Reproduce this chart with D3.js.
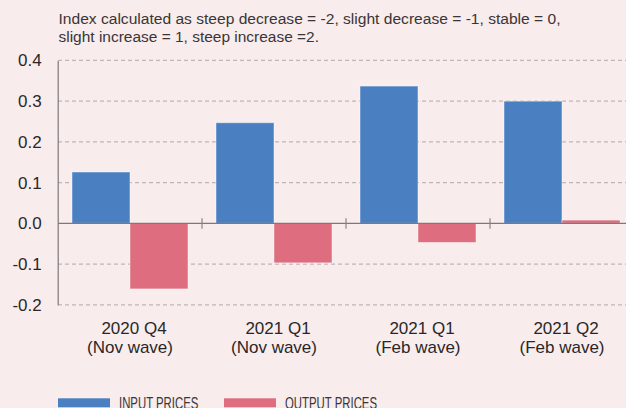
<!DOCTYPE html>
<html>
<head>
<meta charset="utf-8">
<script src="https://cdn.jsdelivr.net/npm/d3@7"></script>
<style>
  html, body { margin: 0; padding: 0; background: #f8ecec; }
  svg { display: block; font-family: "Liberation Sans", Arial, sans-serif; }
</style>
</head>
<body>
<svg id="chart"></svg>
<script>
const categories = [
    ['2020 Q4', '(Nov wave)'],
    ['2021 Q1', '(Nov wave)'],
    ['2021 Q1', '(Feb wave)'],
    ['2021 Q2', '(Feb wave)']
];
const seriesNames = ['INPUT PRICES', 'OUTPUT PRICES'];
const inputPrices = [0.126, 0.247, 0.337, 0.300];
const outputPrices = [-0.161, -0.097, -0.047, 0.008];
const yTicks = [-0.2, -0.1, 0.0, 0.1, 0.2, 0.3, 0.4];
const noteLines = [
    'Index calculated as steep decrease = -2, slight decrease = -1, stable = 0,',
    'slight increase = 1, steep increase =2.'
];

const W = 626, H = 408;
const colors = { 'INPUT PRICES': '#4a80c1', 'OUTPUT PRICES': '#de6e7f' };
const textColor = '#2b2728';

const svg = d3.select('#chart').attr('width', W).attr('height', H);

// scales
const x0 = d3.scaleBand()
    .domain(d3.range(categories.length))
    .range([58, 634]);

const x1 = d3.scaleBand()
    .domain(seriesNames)
    .range([14, x0.bandwidth() - 14]);

const y = d3.scaleLinear()
    .domain([-0.2, 0.4])
    .range([304.8, 60.4]);

// note at top (widths matched to the original's lighter, wider face)
const noteW = [502, 260.5];
svg.append('g')
    .selectAll('text')
    .data(noteLines)
    .enter()
    .append('text')
    .attr('x', 58.5)
    .attr('y', (d, i) => 24 + i * 18)
    .attr('fill', '#3a3536')
    .style('font-size', '15.3px')
    .attr('textLength', (d, i) => noteW[i])
    .attr('lengthAdjust', 'spacingAndGlyphs')
    .text(d => d);

// dashed gridlines
svg.append('g')
    .selectAll('line')
    .data(yTicks.filter(d => d !== 0))
    .enter()
    .append('line')
    .attr('x1', 58)
    .attr('x2', W)
    .attr('y1', d => y(d))
    .attr('y2', d => y(d))
    .attr('stroke', '#bdb6b7')
    .attr('stroke-width', 1.2)
    .attr('stroke-dasharray', '4,3');

// y axis
const yAxis = d3.axisLeft(y)
    .tickValues(yTicks)
    .tickSize(0)
    .tickPadding(16)
    .tickFormat(d => d.toFixed(1));

const yG = svg.append('g')
    .attr('transform', 'translate(57.7,0)')
    .call(yAxis);
yG.select('.domain').attr('stroke', '#7d7879').attr('stroke-width', 1.2);
yG.selectAll('text')
    .attr('fill', textColor)
    .style('font-size', '17px')
    .style('font-family', '"Liberation Sans", Arial, sans-serif');

// bars
const groups = svg.append('g')
    .selectAll('g')
    .data(categories.map((c, i) => i))
    .enter()
    .append('g')
    .attr('transform', i => `translate(${x0(i)},0)`);

groups.selectAll('rect')
    .data(i => [
        { key: 'INPUT PRICES', value: inputPrices[i] },
        { key: 'OUTPUT PRICES', value: outputPrices[i] }
    ])
    .enter()
    .append('rect')
    .attr('x', d => x1(d.key))
    .attr('width', x1.bandwidth())
    .attr('y', d => y(Math.max(0, d.value)))
    .attr('height', d => Math.abs(y(d.value) - y(0)))
    .attr('fill', d => colors[d.key])
    .attr('stroke', 'rgba(255,255,255,0.45)')
    .attr('stroke-width', 1);

// zero line with category separators
svg.append('line')
    .attr('x1', 58)
    .attr('x2', W)
    .attr('y1', y(0))
    .attr('y2', y(0))
    .attr('stroke', '#7d7879')
    .attr('stroke-width', 1.3);

svg.append('g')
    .selectAll('line')
    .data(d3.range(1, categories.length))
    .enter()
    .append('line')
    .attr('x1', i => x0(i))
    .attr('x2', i => x0(i))
    .attr('y1', y(0) - 5)
    .attr('y2', y(0) + 5.5)
    .attr('stroke', '#8a8586')
    .attr('stroke-width', 1.2);

// category labels
const labels = svg.append('g')
    .selectAll('text')
    .data(categories)
    .enter()
    .append('text')
    .attr('text-anchor', 'middle')
    .attr('fill', textColor)
    .style('font-size', '17px')
    .attr('transform', (d, i) => `translate(${x0(i) + x0.bandwidth() / 2},0)`);

labels.append('tspan')
    .attr('x', 4)
    .attr('y', 333.5)
    .text(d => d[0]);

labels.append('tspan')
    .attr('x', 0)
    .attr('y', 352.5)
    .text(d => d[1]);

// legend
const legendX = [58, 224];
const legendW = [79.3, 92];
const legend = svg.append('g')
    .selectAll('g')
    .data(seriesNames)
    .enter()
    .append('g')
    .attr('transform', (d, i) => `translate(${legendX[i]},0)`);

legend.append('rect')
    .attr('x', 0)
    .attr('y', 398.3)
    .attr('width', 52)
    .attr('height', 9)
    .attr('fill', d => colors[d]);

legend.append('text')
    .attr('x', 61)
    .attr('y', 408.5)
    .attr('fill', '#3a3536')
    .style('font-family', '"Liberation Sans Narrow", "Arial Narrow", sans-serif')
    .style('font-size', '16.5px')
    .attr('textLength', (d, i) => legendW[i])
    .attr('lengthAdjust', 'spacingAndGlyphs')
    .text(d => d);
</script>
</body>
</html>
